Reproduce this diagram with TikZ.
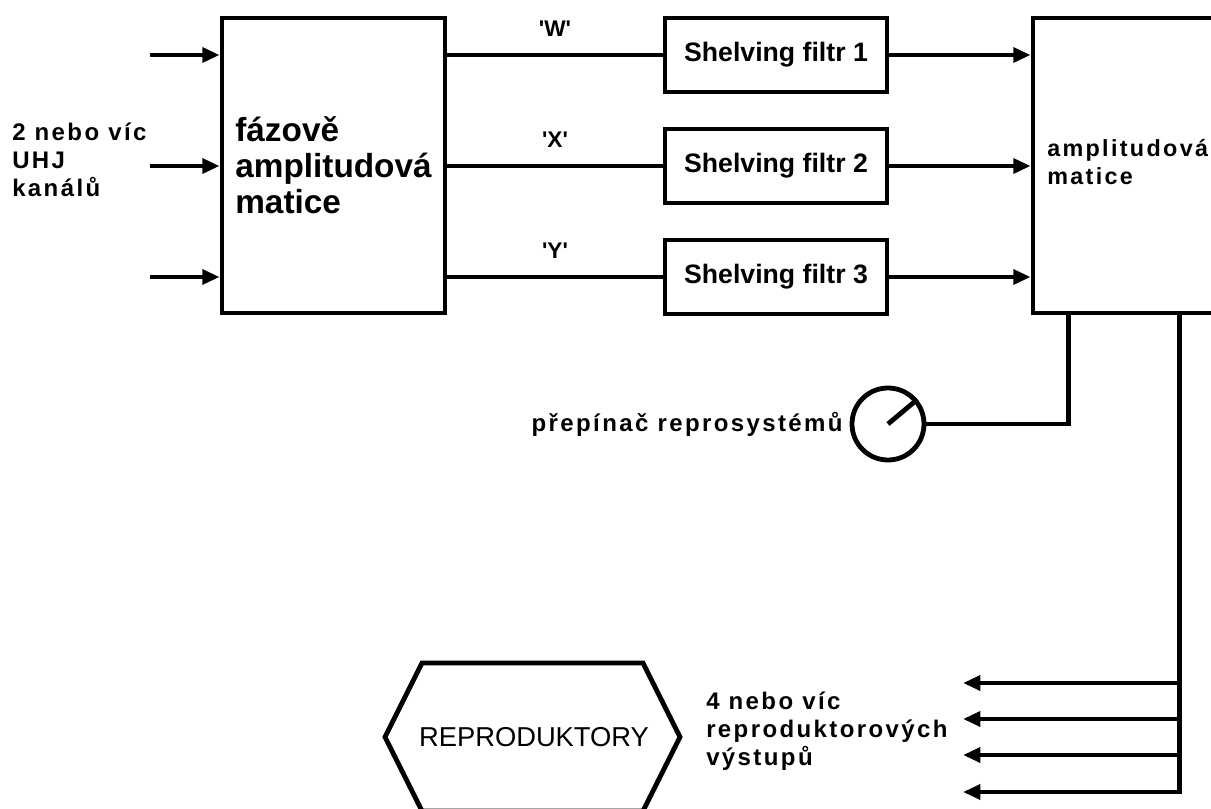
\documentclass[tikz,border=0pt]{standalone}
\usepackage{fontspec}
\setmainfont{Liberation Sans}
\newfontfamily\spaced[LetterSpace=10]{Liberation Sans}
\usetikzlibrary{arrows.meta, positioning, calc}

\begin{document}
\begin{tikzpicture}[
    x=0.75pt, y=-0.75pt,
    blk/.style={draw, line width=3.6pt, inner sep=0pt, font=\bfseries},
    filt/.style={blk, minimum width=166.5pt, minimum height=55.5pt,
        font=\bfseries\fontsize{20}{24}\selectfont},
    ln/.style={line width=3.6pt},
    arr/.style={line width=3.6pt, -{Triangle[length=13pt, width=11pt]}},
    lbl/.style={font=\spaced\bfseries\fontsize{17}{20}\selectfont, inner sep=0pt},
    txt/.style={font=\spaced\bfseries\fontsize{18}{21}\selectfont, inner sep=0pt},
    every node/.style={align=left}
]
\useasboundingbox (0,0) rectangle (1211,809);

% --- fazove amplitudova matice (left) ---
\node[blk, minimum width=167.25pt, minimum height=221.25pt,
    font=\bfseries\fontsize{25}{27}\selectfont] (pam) at (333.5,165.5)
    {fázově\\amplitudová\\matice};

% --- UHJ inputs ---
\node[txt, anchor=west] (uhj) at (12,160) {2 nebo víc\\UHJ\\kanálů};
\coordinate (in1) at (150,55);
\coordinate (in2) at (150,166);
\coordinate (in3) at (150,277);
\foreach \i in {1,2,3}
    \draw[arr] (in\i) -- (in\i -| pam.west);

% --- Shelving filters ---
\foreach \i/\y in {1/55, 2/166, 3/277}
    \node[filt] (f\i) at (776,\y) {Shelving filtr \i};

% --- amplitudova matice (right, runs off the page) ---
\node[blk, minimum width=155.25pt, minimum height=221.25pt] (amx) at (1136.5,165.5) {};
\node[font=\spaced\bfseries\fontsize{17.5}{21}\selectfont, inner sep=0pt,
    anchor=base west] (amxt) at (1047,185) {amplitudová\\matice};

% --- W / X / Y signals ---
\foreach \i/\s in {1/W, 2/X, 3/Y} {
    \draw[ln] (pam.east |- f\i.west) -- (f\i.west)
        node[lbl, midway, above=12pt] (q\i) {\textquotesingle\s\textquotesingle};
    \draw[arr] (f\i.east) -- (f\i.east -| amx.west);
}

% --- system switch ---
\node[draw, circle, line width=3.6pt, minimum size=54pt, inner sep=0pt] (sw) at (888,424) {};
\draw[ln] (sw.center) -- (sw.40);
\node[txt, left=5pt of sw] (swl) {přepínač reprosystémů};
\draw[ln] (sw.east) -| ($(amx.south west)+(38,0)$);

% --- speaker outputs ---
\coordinate (bt) at ($(amx.south west)+(149,0)$);
\foreach \i/\y in {1/683, 2/719, 3/755, 4/792}
    \coordinate (o\i) at (963,\y);
\draw[arr] (bt) |- (o4);
\foreach \i in {1,2,3}
    \draw[arr] (bt |- o\i) -- (o\i);
\node[txt, anchor=west] (outl) at (706,731) {4 nebo víc\\reproduktorových\\výstupů};

% --- REPRODUKTORY ---
\node[font=\fontsize{20.5}{24}\selectfont, inner sep=0pt] (spk) at (534,737) {REPRODUKTORY};
\draw[ln] ($(spk)+(-149,0)$) -- ++(37,-74) -- ++(221,0) -- ++(37,74)
    -- ++(-37,74) -- ++(-221,0) -- cycle;

\end{tikzpicture}
\end{document}
